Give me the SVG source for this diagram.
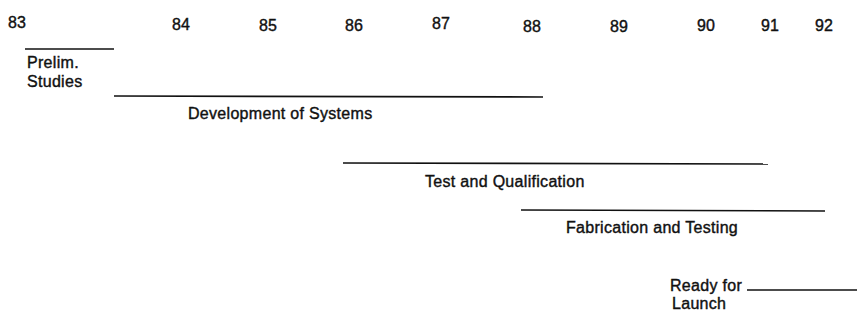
<svg xmlns="http://www.w3.org/2000/svg" width="857" height="324" viewBox="0 0 857 324">
<style>
text{font-family:"Liberation Sans",Arial,sans-serif;font-size:16px;fill:#111;stroke:#111;stroke-width:0.4;letter-spacing:0.3px}
.yr{letter-spacing:0}
line{stroke:#111;stroke-width:1.6}
</style>
<rect width="857" height="324" fill="#fff"/>
<g id="years">
<text class="yr" x="8" y="28">83</text>
<text class="yr" x="172" y="30">84</text>
<text class="yr" x="259" y="31">85</text>
<text class="yr" x="345" y="31">86</text>
<text class="yr" x="432" y="29">87</text>
<text class="yr" x="523" y="32">88</text>
<text class="yr" x="610" y="32">89</text>
<text class="yr" x="697" y="31">90</text>
<text class="yr" x="761" y="31">91</text>
<text class="yr" x="815" y="31">92</text>
</g>
<g id="connectors">
<line x1="25" y1="49" x2="114" y2="49"/>
<line x1="114" y1="96" x2="543" y2="97"/>
<line x1="343" y1="163" x2="768" y2="164"/>
<line x1="521" y1="210" x2="825" y2="211"/>
<line x1="747" y1="290" x2="857" y2="290"/>
</g>
<g id="prelim">
<text x="27" y="68">Prelim.</text>
<text x="27" y="87">Studies</text>
</g>
<g id="development">
<text x="188" y="119">Development of Systems</text>
</g>
<g id="test">
<text x="425" y="187">Test and Qualification</text>
</g>
<g id="fabrication">
<text x="566" y="233">Fabrication and Testing</text>
</g>
<g id="launch">
<text x="670" y="291">Ready for</text>
<text x="672" y="309">Launch</text>
</g>
</svg>
